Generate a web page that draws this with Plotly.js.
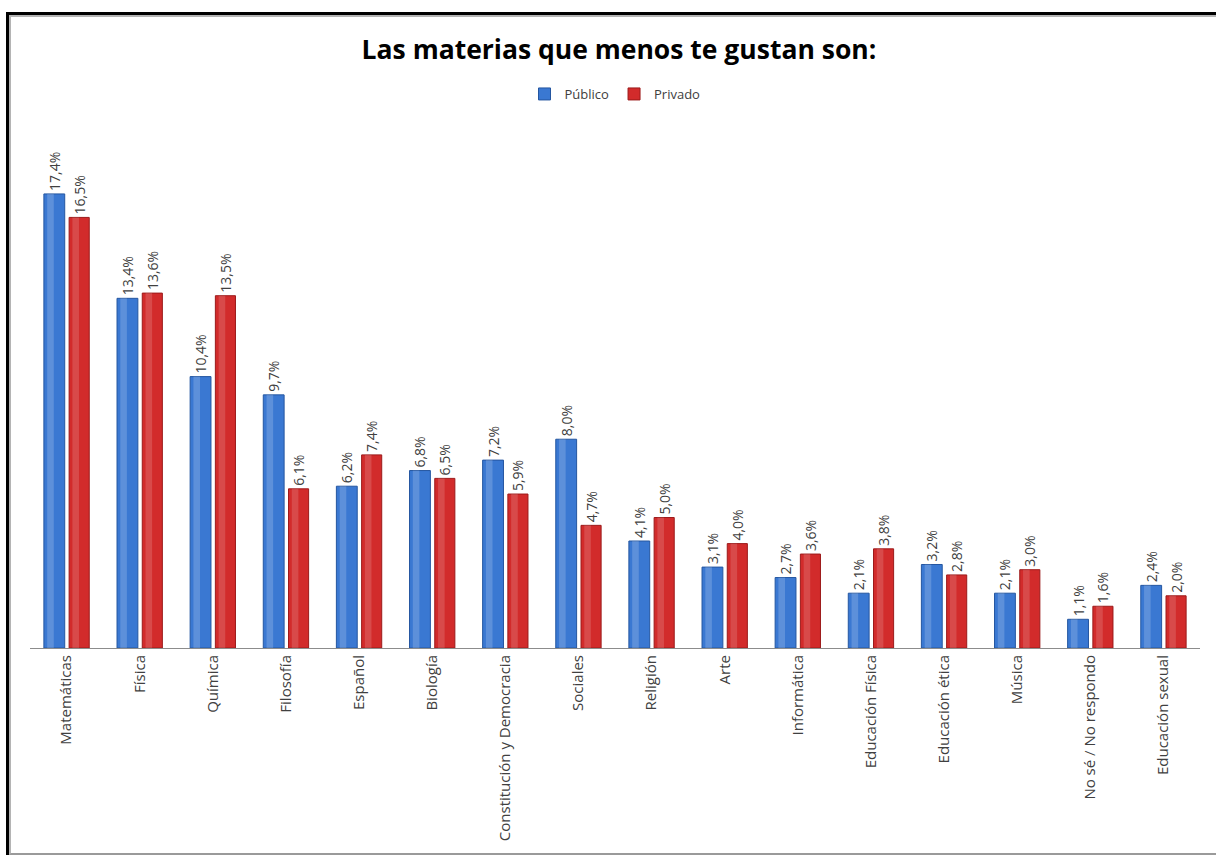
<!DOCTYPE html>
<html>
<head>
<meta charset="utf-8">
<script src="https://cdn.plot.ly/plotly-3.0.1.min.js"></script>
<style>
html,body{margin:0;padding:0;background:#fff;}
#chart{position:absolute;left:0;top:0;width:1216px;height:855px;}
#frameA{position:absolute;left:6px;top:12px;width:1210px;height:843px;border-left:3px solid #000;border-top:3px solid #000;box-sizing:border-box;pointer-events:none;}
#frameB{position:absolute;left:9px;top:15px;width:1207px;height:840px;border-left:2px solid #b4b4b4;border-top:2px solid #b4b4b4;border-bottom:2px solid #9a9a9a;box-sizing:border-box;pointer-events:none;}
</style>
</head>
<body>
<div id="chart"></div>
<div id="frameA"></div>
<div id="frameB"></div>
<script>
const categories = ["Matemáticas","Física","Química","Filosofía","Español","Biología","Constitución y Democracia","Sociales","Religión","Arte","Informática","Educación Física","Educación ética","Música","No sé / No respondo","Educación sexual"];
const publico = [17.4,13.4,10.4,9.7,6.2,6.8,7.2,8.0,4.1,3.1,2.7,2.1,3.2,2.1,1.1,2.4];
const privado = [16.5,13.6,13.5,6.1,7.4,6.5,5.9,4.7,5.0,4.0,3.6,3.8,2.8,3.0,1.6,2.0];
const seriesNames = ["Público","Privado"];

const fmt = v => v.toFixed(1).replace('.', ',') + '%';
const font = "Open Sans, Liberation Sans, sans-serif";

const traces = [
  {type:'bar', name:seriesNames[0], x:categories, y:publico, offset:-0.31, width:0.285,
   marker:{color:'#3a78d2', line:{color:'#2456a0', width:1}},
   text:publico.map(fmt), textposition:'outside', textangle:-90, cliponaxis:false, constraintext:'none',
   textfont:{family:font, size:14, color:'#404040'}, hoverinfo:'x+y'},
  {type:'bar', name:seriesNames[1], x:categories, y:privado, offset:0.035, width:0.275,
   marker:{color:'#d22b2b', line:{color:'#9c1a1a', width:1}},
   text:privado.map(fmt), textposition:'outside', textangle:-90, cliponaxis:false, constraintext:'none',
   textfont:{family:font, size:14, color:'#404040'}, hoverinfo:'x+y'},
  // cylinder highlights
  {type:'bar', x:categories, y:publico, offset:-0.265, width:0.09, showlegend:false, hoverinfo:'skip',
   marker:{color:'rgba(255,255,255,0.18)', line:{width:0}}},
  {type:'bar', x:categories, y:privado, offset:0.08, width:0.09, showlegend:false, hoverinfo:'skip',
   marker:{color:'rgba(255,255,255,0.15)', line:{width:0}}}
];

const layout = {
  width:1216, height:855,
  margin:{l:30, r:16, t:130, b:207},
  paper_bgcolor:'rgba(0,0,0,0)', plot_bgcolor:'rgba(0,0,0,0)',
  barmode:'overlay',
  title:{text:'<b>Las materias que menos te gustan son:</b>', x:0.509, xanchor:'center', y:0.9415, yanchor:'middle',
         font:{family:font, size:26.5, color:'#000'}},
  showlegend:true,
  legend:{orientation:'h', x:0.5, xanchor:'center', y:1.0695, yanchor:'middle',
          font:{family:font, size:13, color:'#404040'}, itemwidth:30, tracegroupgap:0},
  xaxis:{type:'category', tickangle:-90, showline:true, linecolor:'#8c8c8c', linewidth:1,
         ticks:'', showgrid:false, tickfont:{family:font, size:15, color:'#404040'}, fixedrange:true},
  yaxis:{range:[0,19.85], visible:false, showgrid:false, zeroline:false, fixedrange:true}
};

Plotly.newPlot('chart', traces, layout, {displayModeBar:false, staticPlot:true});
</script>
</body>
</html>
